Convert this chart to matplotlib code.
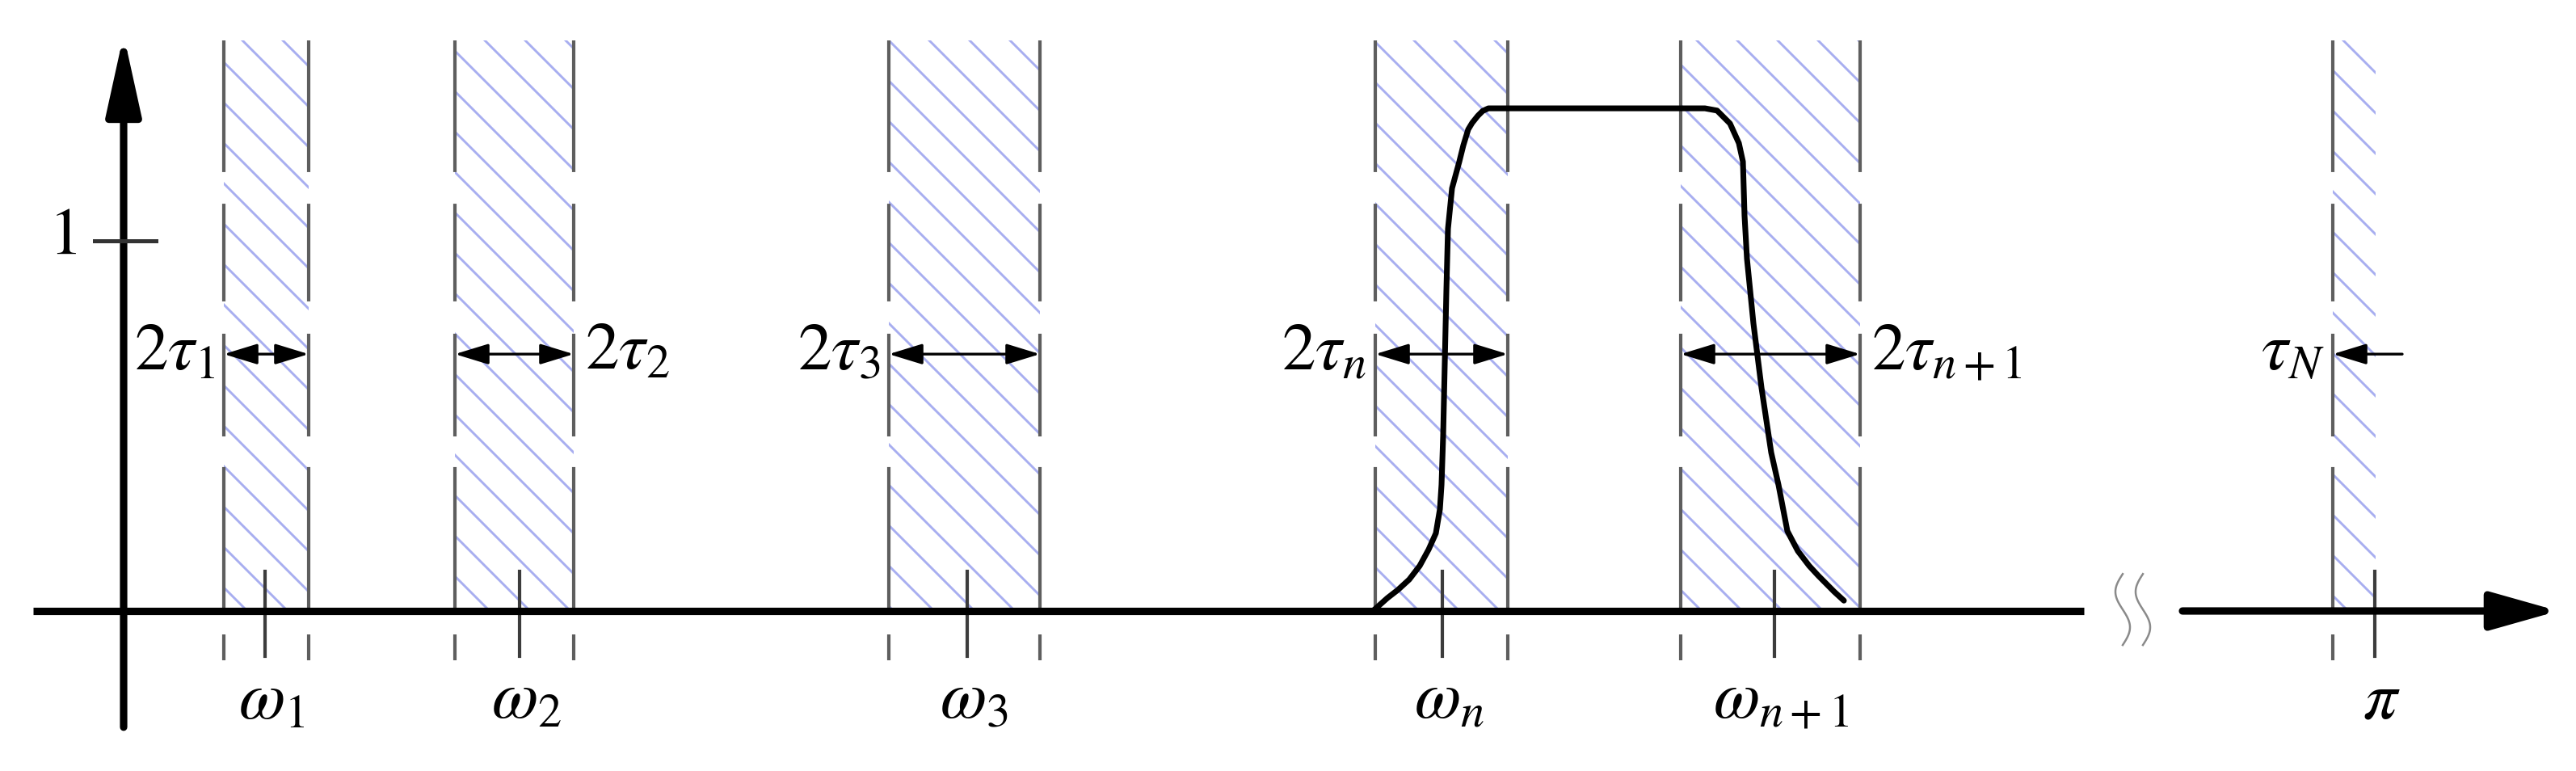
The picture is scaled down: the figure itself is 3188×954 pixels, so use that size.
import matplotlib
matplotlib.use('agg')
import matplotlib.pyplot as plt
import numpy as np

plt.rcParams['mathtext.fontset'] = 'stix'
plt.rcParams['hatch.linewidth'] = 0.7
plt.rcParams['lines.scale_dashes'] = False

# frequency axis, y-axis at 0 (one unit = 100 px of the original drawing)
band_left = [1.24, 4.10, 9.47, 15.49, 19.27, 27.34]
band_right = [2.29, 5.57, 11.34, 17.13, 21.49, 27.87]
omega_ticks = [1.75, 4.90, 10.44, 16.32, 20.43, 27.86]
omega_labels = [r'$\omega_1$', r'$\omega_2$', r'$\omega_3$', r'$\omega_n$', r'$\omega_{n+1}$', r'$\pi$']
tau_labels = [r'$2\tau_1$', r'$2\tau_2$', r'$2\tau_3$', r'$2\tau_n$', r'$2\tau_{n+1}$', r'$\tau_N$']
tau_side = ['left', 'right', 'left', 'left', 'right', 'left']

# band-pass response (amplitude)
resp_x = [15.46, 15.64, 15.77, 15.91, 16.04, 16.15, 16.24, 16.29, 16.31, 16.33, 16.35, 16.37, 16.39,
          16.44, 16.53, 16.58, 16.64, 16.69, 16.76, 16.82, 16.89,
          19.57, 19.72, 19.88, 19.99, 20.04, 20.06, 20.09, 20.17, 20.27, 20.39, 20.48, 20.59,
          20.72, 20.86, 20.97, 21.17, 21.29]
resp_y = [0.0, 0.035, 0.057, 0.085, 0.122, 0.166, 0.210, 0.275, 0.341, 0.472, 0.668, 0.865, 1.033,
          1.142, 1.214, 1.258, 1.301, 1.319, 1.338, 1.351, 1.358,
          1.358, 1.352, 1.317, 1.264, 1.214, 1.068, 0.952, 0.777, 0.603, 0.428, 0.341, 0.216,
          0.162, 0.122, 0.096, 0.052, 0.028]

band_top = 1.541
band_bottom = -0.133
arrow_y = 0.694
label_y = 0.653
omega_label_y = -0.29
x_break = (24.26, 25.48)

fig = plt.figure(figsize=(3188 / 300, 954 / 300), dpi=300)
ax = fig.add_axes([0, 0, 1, 1])
ax.set_xlim(-1.53, 30.35)
ax.set_ylim(-0.4323, 1.6507)
ax.axis('off')

hatch_col = '#a8aef0'
dash_col = '#5e5e5e'
# dash pattern of the band edges (points)
dash_seq = (0, (39.1, 9.4, 29.0, 9.6, 30.5, 9.1, 43.7, 6.0, 7.7, 100))

for i, (l, r) in enumerate(zip(band_left, band_right)):
    ax.add_patch(plt.Rectangle((l, 0), r - l, band_top, fill=False, hatch='\\\\', edgecolor=hatch_col,
                               linewidth=0, zorder=1))
    edges = [l] if i == len(band_left) - 1 else [l, r]
    for e in edges:
        ax.plot([e, e], [band_top, band_bottom], color=dash_col, lw=1.0, linestyle=dash_seq,
                solid_capstyle='butt', dash_capstyle='butt', zorder=2)

# omega ticks and labels
for t, lab in zip(omega_ticks, omega_labels):
    ax.plot([t, t], [0.107, -0.123], color='#3c3c3c', lw=1.0, zorder=3)
    ax.text(t + 0.08, omega_label_y, lab, fontsize=20, ha='center', va='baseline', zorder=5)

# response curve
ax.plot(resp_x, resp_y, color='k', lw=1.7, solid_joinstyle='round', solid_capstyle='round', zorder=4)

# width arrows and tau labels
for i, (l, r) in enumerate(zip(band_left, band_right)):
    if i == len(band_left) - 1:
        ax.annotate('', xy=(l, arrow_y), xytext=(28.20, arrow_y),
                    arrowprops=dict(arrowstyle='-|>,head_length=8.5,head_width=2.6', color='k', lw=0.8,
                                    shrinkA=0, shrinkB=0, mutation_scale=1), zorder=6)
    else:
        ax.annotate('', xy=(r, arrow_y), xytext=(l, arrow_y),
                    arrowprops=dict(arrowstyle='<|-|>,head_length=8.5,head_width=2.6', color='k', lw=0.8,
                                    shrinkA=0, shrinkB=0, mutation_scale=1), zorder=6)
    if tau_side[i] == 'left':
        ax.text(l - 0.10, label_y, tau_labels[i], fontsize=20, ha='right', va='baseline', zorder=6)
    else:
        ax.text(r + 0.14, label_y, tau_labels[i], fontsize=20, ha='left', va='baseline', zorder=6)

# axes with arrows
ax.annotate('', xy=(0, 1.557), xytext=(0, -0.314),
            arrowprops=dict(arrowstyle='-|>,head_length=20,head_width=4.4', color='k', lw=2.2,
                            shrinkA=0, shrinkB=0, mutation_scale=1), zorder=7)
ax.plot([-1.12, x_break[0]], [0, 0], color='k', lw=2.2, solid_capstyle='butt', zorder=7)
ax.annotate('', xy=(30.13, 0), xytext=(x_break[1], 0),
            arrowprops=dict(arrowstyle='-|>,head_length=17,head_width=4.8', color='k', lw=2.2,
                            shrinkA=0, shrinkB=0, mutation_scale=1), zorder=7)

# axis break mark
s = np.linspace(0, 1, 60)
for xb in [24.74, 24.99]:
    ax.plot(xb - 0.09 * np.sin(2 * np.pi * s), 0.10 - 0.192 * s, color='#8a8a8a', lw=0.6, zorder=7)

# tick at amplitude 1
ax.plot([-0.36, 0.40], [1, 1], color='#333333', lw=1.2, zorder=7)
ax.text(-0.76, 1.017, r'$1$', fontsize=20, ha='center', va='center', zorder=7)

plt.savefig('out.png', dpi=300)
